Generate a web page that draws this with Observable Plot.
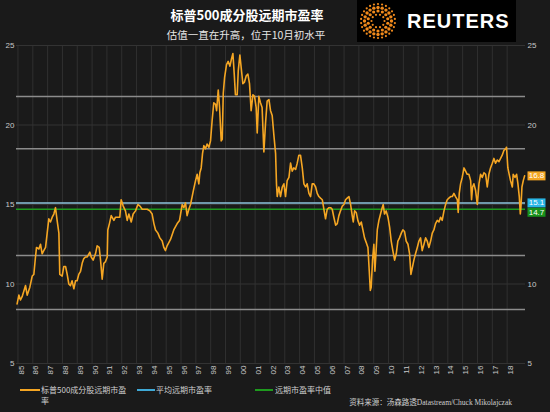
<!DOCTYPE html>
<html>
<head>
<meta charset="utf-8">
<script src="https://cdn.jsdelivr.net/npm/d3@7"></script>
<script src="https://cdn.jsdelivr.net/npm/@observablehq/plot@0.6"></script>
<style>
  html, body { margin: 0; padding: 0; background: #1a1a1a; }
  #wrap { position: relative; width: 550px; height: 412px; background: #1a1a1a; overflow: hidden;
          font-family: "Liberation Sans", "Noto Sans CJK SC", sans-serif; color: #ccc; }
  #title { position: absolute; left: 0; top: 6px; width: 494px; text-align: center;
           font-family: "Noto Sans CJK SC", sans-serif; font-weight: 700; font-size: 13px; line-height: 18px; color: #fff; }
  #subtitle { position: absolute; left: 0; top: 28px; width: 492px; text-align: center;
           font-family: "Noto Sans CJK SC", sans-serif; font-size: 10.5px; line-height: 14px; color: #e6e6e6; }
  #logo { position: absolute; left: 357px; top: 0; width: 159px; height: 42px; background: #000; }
  #chart { position: absolute; left: 0; top: 40px; }
  .lg { position: absolute; font-family: "Noto Sans CJK SC", sans-serif; font-size: 8px; line-height: 11px; color: #cfcfcf; }
  .sw { position: absolute; height: 1.5px; }
  #source { position: absolute; right: 38px; top: 398px; font-family: "Liberation Serif", "Noto Sans CJK SC", serif;
            font-size: 7.5px; line-height: 10px; color: #cfcfcf; }
</style>
</head>
<body>
<div id="wrap">
  <div id="title">标普500成分股远期市盈率</div>
  <div id="subtitle">估值一直在升高，位于10月初水平</div>
  <div id="logo"></div>
  <div id="chart"></div>
  <div class="sw" style="left:20px;top:389px;width:20px;background:#f5a623"></div>
  <div class="lg" style="left:41px;top:384px;width:86px">标普500成分股远期市盈率</div>
  <div class="sw" style="left:137px;top:389px;width:18px;background:#3fa9d6"></div>
  <div class="lg" style="left:156px;top:384px">平均远期市盈率</div>
  <div class="sw" style="left:255px;top:389px;width:18px;background:#1e9a1e"></div>
  <div class="lg" style="left:275px;top:384px">远期市盈率中值</div>
  <div id="source">资料来源：汤森路透Datastream/Chuck Mikolajczak</div>
</div>
<script>
// ---- data (decimal year, forward P/E) ----
const dates = [
1984.94,1985.06,1985.17,1985.28,1985.51,1985.62,1985.80,1985.96,1986.07,1986.18,1986.25,1986.41,1986.52,1986.63,1986.74,1986.86,1986.97,
1987.08,1987.19,1987.31,1987.42,1987.53,1987.64,1987.76,1987.82,1987.98,1988.09,1988.21,1988.32,1988.43,1988.54,1988.65,1988.77,1988.88,1988.99,
1989.10,1989.22,1989.33,1989.44,1989.55,1989.67,1989.85,1989.94,1990.07,1990.23,1990.34,1990.48,1990.57,1990.68,1990.79,1990.90,
1991.02,1991.06,1991.17,1991.29,1991.47,1991.58,1991.74,1991.87,1991.96,1992.10,1992.25,1992.37,1992.48,1992.64,1992.77,1992.93,
1993.09,1993.23,1993.38,1993.54,1993.72,1993.90,1994.05,1994.17,1994.28,1994.44,1994.57,1994.73,1994.84,1994.95,
1995.06,1995.29,1995.51,1995.74,1995.90,1995.97,1996.08,1996.19,1996.30,1996.41,1996.53,1996.64,1996.75,1996.86,1996.98,
1997.09,1997.20,1997.27,1997.36,1997.45,1997.54,1997.65,1997.76,1997.88,1997.99,1998.10,1998.21,1998.33,1998.40,1998.51,1998.60,1998.71,1998.78,1998.85,1998.94,
1999.07,1999.18,1999.30,1999.39,1999.50,1999.59,1999.67,1999.79,1999.86,1999.97,2000.06,2000.17,2000.28,2000.40,2000.51,2000.62,2000.73,2000.85,2000.96,
2001.07,2001.14,2001.25,2001.36,2001.47,2001.59,2001.70,2001.81,2001.93,2002.04,2002.15,2002.26,2002.38,2002.44,2002.49,2002.60,2002.71,2002.83,2002.94,
2003.05,2003.16,2003.28,2003.39,2003.50,2003.61,2003.73,2003.84,2003.95,2004.06,2004.18,2004.29,2004.40,2004.51,2004.63,2004.74,2004.85,2004.96,
2005.08,2005.19,2005.30,2005.41,2005.53,2005.64,2005.75,2005.86,2005.98,2006.09,2006.20,2006.31,2006.43,2006.54,2006.65,2006.76,2006.88,2006.99,
2007.10,2007.21,2007.33,2007.44,2007.55,2007.62,2007.71,2007.82,2007.93,2008.05,2008.16,2008.27,2008.38,2008.50,2008.61,2008.70,2008.77,2008.83,2008.92,
2009.01,2009.08,2009.15,2009.24,2009.35,2009.46,2009.57,2009.64,2009.73,2009.84,2009.96,2010.07,2010.18,2010.29,2010.41,2010.52,2010.63,2010.74,2010.86,2010.97,
2011.08,2011.19,2011.31,2011.42,2011.51,2011.60,2011.71,2011.82,2011.94,2012.05,2012.16,2012.27,2012.39,2012.50,2012.61,2012.72,2012.84,2012.95,
2013.06,2013.17,2013.29,2013.40,2013.51,2013.62,2013.74,2013.85,2013.96,2014.07,2014.19,2014.30,2014.41,2014.52,2014.64,2014.70,2014.77,2014.86,2014.97,
2015.09,2015.20,2015.31,2015.42,2015.54,2015.60,2015.67,2015.76,2015.87,2015.99,2016.10,2016.21,2016.32,2016.44,2016.55,2016.66,2016.77,2016.88,
2017.00,2017.11,2017.22,2017.34,2017.45,2017.56,2017.67,2017.78,2017.90,2017.96,2018.05,2018.14,2018.23,2018.35,2018.41,2018.53,2018.64,2018.73,2018.82,2018.89,2018.93,
2019.00,2019.09,2019.18
];
const forwardPE = [
8.75,9.3,9.0,9.2,9.9,9.3,9.8,10.5,10.6,11.7,12.3,12.2,12.5,11.9,12.1,12.3,13.2,
14.1,13.9,14.2,14.4,14.8,14.0,13.2,10.6,10.5,11.1,11.1,10.6,10.0,9.9,10.2,9.7,10.2,10.2,
10.6,10.8,11.3,11.6,11.7,11.7,12.0,11.7,11.5,11.9,12.4,12.3,11.5,10.3,11.3,11.4,
11.7,13.4,13.8,14.3,14.0,14.2,14.2,14.2,15.3,14.9,14.6,14.0,14.4,13.9,14.4,14.6,
15.0,14.9,14.7,14.7,14.7,14.6,14.4,13.8,13.4,13.2,12.9,12.7,12.3,12.1,
12.4,12.8,13.4,13.8,14.0,14.4,15.0,14.8,15.1,14.3,14.7,15.0,15.5,16.0,16.5,
16.9,16.3,17.0,17.3,18.2,18.7,18.5,18.8,18.6,19.0,20.3,21.4,21.3,20.9,22.2,21.1,19.0,19.1,22.0,23.0,
23.8,24.0,23.7,24.1,24.5,23.2,21.9,21.9,23.4,24.4,23.6,22.6,22.7,23.1,23.2,22.6,20.9,21.9,21.8,
21.1,19.5,21.8,21.4,21.1,18.3,20.1,21.5,21.6,20.9,20.6,19.4,18.2,16.3,15.5,16.1,15.5,16.1,16.3,
15.5,16.5,16.7,17.6,17.1,17.3,17.2,17.6,18.1,18.1,17.3,16.3,16.1,16.3,15.7,15.5,16.3,16.3,
16.1,15.7,15.5,15.4,15.3,14.7,14.1,14.7,14.8,14.8,14.7,14.2,13.7,13.8,14.3,14.6,14.9,15.0,
15.3,15.4,15.5,15.0,14.3,13.9,14.6,14.5,14.0,13.7,13.9,13.4,12.9,12.6,12.3,10.8,9.6,9.8,11.5,
12.5,10.8,11.9,13.4,14.0,14.4,14.8,15.0,14.4,14.6,14.2,13.6,12.7,12.1,11.5,11.9,12.7,12.9,13.2,13.4,
13.3,12.7,12.5,11.9,10.6,11.0,11.5,11.9,12.3,12.7,12.9,12.1,12.5,12.9,12.7,12.3,12.7,13.2,
13.4,13.8,14.0,13.9,14.2,14.0,14.6,15.0,15.3,15.4,15.5,15.5,15.7,15.5,15.3,14.5,15.7,16.3,16.7,
17.3,17.1,16.9,16.9,16.5,15.3,16.1,16.3,15.9,15.0,16.3,16.9,16.7,17.0,16.9,16.1,16.9,17.3,
17.6,17.9,17.6,17.8,17.7,17.9,18.1,18.4,18.5,18.6,17.3,16.9,16.5,16.1,16.9,16.7,16.9,16.3,15.5,14.4,14.8,
16.1,16.5,16.8
];
const averagePE = 15.1;
const medianPE = 14.7;
const latestPE = 16.8;
const sdLevels = [8.4, 11.8, 18.5, 21.8];
const yTicks = [5, 10, 15, 20, 25];
const yTicksRight = [5, 10, 20, 25]; // the right-hand 15 is hidden behind the 15.1 tag in the reference
const tickYears = [1985,1986,1987,1988,1989,1990,1991,1992,1993,1994,1995,1996,1997,1998,1999,2000,2001,
                   2002,2003,2004,2005,2006,2007,2008,2009,2010,2011,2012,2013,2014,2015,2016,2017,2018];
const tickLabels = ["85","86","87","88","89","90","91","92","93","94","95","96","97","98","99","00","01",
                    "02","03","04","05","06","07","08","09","10","11","12","13","14","15","16","17","18"];
const endLabels = [
  {v: latestPE, text: "16.8", fill: "#f5a623"},
  {v: averagePE, text: "15.1", fill: "#29b6e6"},
  {v: medianPE, text: "14.7", fill: "#17911b"}
];

const series = dates.map((t, i) => ({t, v: forwardPE[i]}));
const boxSymbol = { draw(ctx) { ctx.rect(0, -4.5, 18, 9); } };

const endMarks = endLabels.flatMap((d, i) => {
  const dy = i === 2 ? 3 : 0;
  return [
    Plot.dot([d], {y: "v", frameAnchor: "right", symbol: boxSymbol, fill: "fill", stroke: null, dx: 2, dy}),
    Plot.text([d], {y: "v", frameAnchor: "right", text: "text", fill: "#fff", dx: 11, dy, textAnchor: "middle", fontSize: 8})
  ];
});

const chart = Plot.plot({
  width: 550, height: 340,
  marginLeft: 16, marginRight: 25, marginTop: 5, marginBottom: 17,
  style: {background: "transparent", color: "#c8c8c8", fontFamily: "'Liberation Sans', Arial, sans-serif", fontSize: "8px", overflow: "visible"},
  x: {domain: [1984.9, 2019.24], label: null},
  y: {domain: [5, 25], label: null},
  marks: [
    Plot.ruleX(tickYears, {stroke: "#303030", strokeWidth: 1}),
    Plot.ruleY(yTicks, {stroke: "#333333", strokeWidth: 1}),
    Plot.ruleY(sdLevels, {stroke: "#8c8c8c", strokeWidth: 1.5}),
    Plot.ruleY([averagePE], {stroke: "#8cc3dd", strokeWidth: 1.5}),
    Plot.ruleY([medianPE], {stroke: "#1e9a1e", strokeWidth: 1.5}),
    Plot.line(series, {x: "t", y: "v", stroke: "#f5a623", strokeWidth: 1.6}),
    Plot.axisY({anchor: "left", ticks: yTicks, tickSize: 0, tickPadding: 2, label: null, fill: "#c8c8c8"}),
    Plot.axisY({anchor: "right", ticks: yTicksRight, tickSize: 0, tickPadding: 2, label: null, fill: "#c8c8c8"}),
    Plot.axisX({ticks: tickYears, tickFormat: d => tickLabels[tickYears.indexOf(d)], tickRotate: -90,
                tickSize: 0, tickPadding: 2, dx: 3, label: null, fill: "#c8c8c8"}),
    ...endMarks
  ]
});
document.getElementById("chart").appendChild(chart);

// Reuters logo (decoration)
(function () {
  const ns = "http://www.w3.org/2000/svg";
  const svg = document.createElementNS(ns, "svg");
  svg.setAttribute("width", 159); svg.setAttribute("height", 42);
  const rings = [[6.5, 10, 1.1], [10, 14, 1.6], [13.5, 20, 1.7], [17, 26, 1.1]];
  rings.forEach(([R, n, r], k) => {
    for (let j = 0; j < n; j++) {
      const a = (j + (k % 2) * 0.5) / n * 2 * Math.PI;
      const c = document.createElementNS(ns, "circle");
      c.setAttribute("cx", 21 + R * Math.cos(a)); c.setAttribute("cy", 21 + R * Math.sin(a));
      c.setAttribute("r", r); c.setAttribute("fill", "#f08a1c");
      svg.appendChild(c);
    }
  });
  const t = document.createElementNS(ns, "text");
  t.setAttribute("x", 50); t.setAttribute("y", 28);
  t.setAttribute("fill", "#fff"); t.setAttribute("font-family", "'Liberation Sans', Arial, sans-serif");
  t.setAttribute("font-weight", "700"); t.setAttribute("font-size", "20"); t.setAttribute("letter-spacing", "1");
  t.textContent = "REUTERS";
  svg.appendChild(t);
  document.getElementById("logo").appendChild(svg);
})();
</script>
</body>
</html>
